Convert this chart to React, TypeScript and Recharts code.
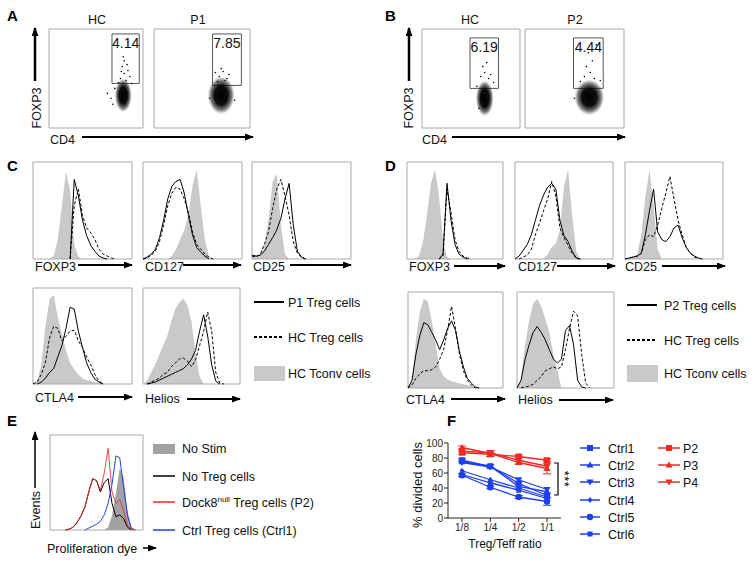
import { Area, ComposedChart, ErrorBar, Line, LineChart, ReferenceArea, Scatter, ScatterChart, XAxis, YAxis } from "recharts"

const FONT = "'Liberation Sans', Arial, Helvetica, sans-serif"
const BLUE = "#1f40e6"
const RED = "#ec2b23"
const TCONV_GRAY = "#c9c9c9"
const NOSTIM_GRAY = "#a2a2a2"
const FRAME = "#a9a9a9"
const TICK = "#555"

// ---------- A / B : FOXP3 vs CD4 dot plots (0-100 display units) ----------
const aHcCluster = [{ x: 79, y: 33, sx: 9, sy: 17 }]
const aHcTail = [
  { x: 76, y: 50 }, { x: 80, y: 55 }, { x: 82, y: 48 }, { x: 78, y: 62 }, { x: 84, y: 58 }, { x: 74, y: 46 },
  { x: 80, y: 68 }, { x: 86, y: 52 }, { x: 77, y: 57 }, { x: 83, y: 64 }, { x: 70, y: 40 }, { x: 88, y: 45 },
  { x: 66, y: 30 }, { x: 62, y: 35 }, { x: 68, y: 24 }, { x: 79, y: 72 },
]
const aHcGate = { x1: 67, x2: 96, y1: 45, y2: 95 }

const aP1Cluster = [{ x: 70, y: 33, sx: 14, sy: 19 }]
const aP1Tail = [
  { x: 68, y: 52 }, { x: 72, y: 57 }, { x: 76, y: 50 }, { x: 70, y: 60 }, { x: 74, y: 48 },
  { x: 66, y: 47 }, { x: 78, y: 54 }, { x: 58, y: 30 }, { x: 84, y: 28 }, { x: 64, y: 56 },
]
const aP1Gate = { x1: 61, x2: 91, y1: 43, y2: 95 }

const bHcCluster = [{ x: 64, y: 30, sx: 9, sy: 18 }]
const bHcTail = [
  { x: 60, y: 52 }, { x: 64, y: 56 }, { x: 68, y: 50 }, { x: 62, y: 62 }, { x: 66, y: 66 },
  { x: 70, y: 54 }, { x: 56, y: 42 }, { x: 73, y: 46 }, { x: 58, y: 20 },
]
const bHcGate = { x1: 49, x2: 78, y1: 40, y2: 91 }

const bP2Cluster = [{ x: 65, y: 31, sx: 15, sy: 18 }]
const bP2Tail = [
  { x: 60, y: 52 }, { x: 66, y: 56 }, { x: 70, y: 50 }, { x: 62, y: 62 }, { x: 68, y: 68 },
  { x: 56, y: 47 }, { x: 76, y: 48 }, { x: 64, y: 76 }, { x: 72, y: 84 }, { x: 50, y: 30 },
]
const bP2Gate = { x1: 49, x2: 79, y1: 40, y2: 91 }

const flowXTicks = [5, 9, 13, 17, 21, 24, 27, 33, 40, 52, 64, 72, 78, 83, 87, 91, 95]
const flowYTicks = [23, 41, 67, 90]

// ---------- C / D : histograms, 25 channels, % of max ----------
const cFoxp3Tconv = [0, 0, 0, 0, 0, 3, 20, 55, 90, 70, 15, 2, 0, 0, 0, 0, 0, 0, 0, 0, 0, 0, 0, 0, 0]
const cFoxp3Treg = [0, 0, 0, 0, 0, 0, 0, 0, 0, 0, 82, 65, 40, 24, 14, 8, 3, 1, 0, 0, 0, 0, 0, 0, 0]
const cFoxp3Hc = [0, 0, 0, 0, 0, 0, 0, 0, 0, 0, 55, 72, 45, 32, 27, 20, 10, 5, 3, 1, 0, 0, 0, 0, 0]

const cCd127Tconv = [0, 0, 0, 0, 0, 0, 0, 3, 10, 20, 30, 45, 75, 92, 55, 20, 2, 0, 0, 0, 0, 0, 0, 0, 0]
const cCd127Treg = [0, 2, 5, 10, 22, 40, 62, 75, 80, 82, 68, 45, 25, 12, 7, 3, 0, 0, 0, 0, 0, 0, 0, 0, 0]
const cCd127Hc = [0, 1, 4, 8, 18, 35, 55, 68, 74, 72, 62, 48, 28, 15, 10, 5, 2, 0, 0, 0, 0, 0, 0, 0, 0]

const cCd25Tconv = [2, 3, 5, 15, 40, 80, 88, 35, 5, 0, 0, 0, 0, 0, 0, 0, 0, 0, 0, 0, 0, 0, 0, 0, 0]
const cCd25Treg = [4, 3, 4, 8, 15, 22, 30, 42, 62, 78, 35, 8, 2, 0, 0, 0, 0, 0, 0, 0, 0, 0, 0, 0, 0]
const cCd25Hc = [3, 2, 5, 15, 28, 52, 72, 82, 65, 45, 18, 6, 2, 0, 0, 0, 0, 0, 0, 0, 0, 0, 0, 0, 0]

const cCtla4Tconv = [0, 3, 20, 60, 88, 93, 70, 52, 35, 22, 15, 10, 6, 4, 3, 2, 1, 0, 0, 0, 0, 0, 0, 0, 0]
const cCtla4Treg = [0, 0, 2, 6, 12, 16, 28, 40, 58, 80, 78, 55, 38, 22, 12, 5, 2, 0, 0, 0, 0, 0, 0, 0, 0]
const cCtla4Hc = [0, 2, 10, 22, 48, 60, 58, 45, 50, 55, 56, 45, 38, 28, 20, 10, 3, 0, 0, 0, 0, 0, 0, 0, 0]

const cHeliosTconv = [0, 3, 12, 20, 30, 40, 50, 65, 78, 85, 89, 82, 65, 32, 8, 0, 0, 0, 0, 0, 0, 0, 0, 0, 0]
const cHeliosTreg = [0, 0, 1, 2, 4, 6, 8, 10, 12, 14, 16, 20, 26, 35, 55, 72, 50, 20, 3, 0, 0, 0, 0, 0, 0]
const cHeliosHc = [0, 0, 2, 4, 6, 10, 12, 18, 22, 26, 27, 24, 18, 25, 40, 55, 75, 55, 12, 1, 0, 0, 0, 0, 0]

const dFoxp3Tconv = [0, 0, 0, 3, 18, 45, 78, 92, 65, 20, 2, 0, 0, 0, 0, 0, 0, 0, 0, 0, 0, 0, 0, 0, 0]
const dFoxp3Treg = [0, 0, 0, 0, 0, 0, 0, 0, 0, 5, 78, 40, 15, 5, 2, 0, 0, 0, 0, 0, 0, 0, 0, 0, 0]
const dFoxp3Hc = [0, 0, 0, 0, 0, 0, 0, 0, 0, 3, 72, 48, 20, 8, 3, 1, 0, 0, 0, 0, 0, 0, 0, 0, 0]

const dCd127Tconv = [0, 0, 0, 0, 0, 0, 0, 0, 5, 12, 16, 30, 75, 92, 45, 8, 0, 0, 0, 0, 0, 0, 0, 0, 0]
const dCd127Treg = [0, 3, 9, 15, 25, 40, 55, 66, 74, 78, 72, 40, 24, 18, 8, 1, 0, 0, 0, 0, 0, 0, 0, 0, 0]
const dCd127Hc = [0, 0, 2, 4, 10, 25, 37, 50, 62, 80, 65, 32, 22, 14, 6, 1, 0, 0, 0, 0, 0, 0, 0, 0, 0]

const dCd25Tconv = [0, 0, 2, 5, 25, 65, 92, 55, 10, 0, 0, 0, 0, 0, 0, 0, 0, 0, 0, 0, 0, 0, 0, 0, 0]
const dCd25Treg = [0, 1, 2, 3, 6, 25, 50, 72, 28, 20, 18, 23, 32, 35, 22, 12, 6, 3, 1, 0, 0, 0, 0, 0, 0]
const dCd25Hc = [0, 1, 2, 3, 6, 20, 25, 23, 35, 52, 68, 85, 62, 40, 25, 12, 6, 2, 0, 0, 0, 0, 0, 0, 0]

const dCtla4Tconv = [0, 8, 50, 80, 93, 90, 70, 45, 20, 12, 9, 7, 6, 5, 4, 3, 2, 1, 0, 0, 0, 0, 0, 0, 0]
const dCtla4Treg = [0, 8, 35, 55, 68, 66, 58, 50, 40, 50, 62, 70, 60, 38, 22, 10, 5, 1, 0, 0, 0, 0, 0, 0, 0]
const dCtla4Hc = [0, 3, 10, 15, 18, 18, 19, 22, 30, 40, 60, 85, 62, 35, 18, 8, 3, 0, 0, 0, 0, 0, 0, 0, 0]

const dHeliosTconv = [0, 10, 45, 70, 88, 93, 85, 72, 58, 35, 18, 0, 0, 0, 0, 0, 0, 0, 0, 0, 0, 0, 0, 0, 0]
const dHeliosTreg = [0, 8, 30, 45, 58, 64, 58, 50, 40, 30, 26, 30, 60, 65, 45, 8, 1, 0, 0, 0, 0, 0, 0, 0, 0]
const dHeliosHc = [0, 0, 1, 2, 4, 8, 12, 18, 20, 22, 20, 22, 40, 62, 80, 75, 35, 5, 0, 0, 0, 0, 0, 0, 0]

const histXTicks = [1.2, 2.4, 3.6, 5.4, 5.7, 6, 7.8, 10.2, 13, 15.5, 17, 18.7, 20.4, 21.8, 23]
const histYTicks = [20, 40, 60, 80, 100]

// ---------- E : proliferation dye ----------
const eNoStim = [0, 0, 0, 0, 0, 0, 0, 0, 0, 0, 0, 0, 0, 0, 0, 3, 15, 38, 65, 55, 20, 3, 0, 0, 0]
const eNoTreg = [0, 0, 0, 0, 0, 1, 3, 8, 15, 24, 40, 54, 52, 40, 50, 54, 28, 14, 16, 12, 3, 0, 0, 0, 0]
const eDock8 = [0, 0, 0, 0, 0, 1, 3, 8, 15, 24, 40, 54, 52, 42, 60, 86, 40, 28, 32, 20, 5, 1, 0, 0, 0]
const eCtrl = [0, 0, 0, 0, 0, 0, 0, 0, 0, 0, 2, 4, 6, 9, 16, 28, 48, 78, 76, 45, 15, 2, 0, 0, 0]
const eXTicks = [0, 7.2, 14.7, 18.1, 21.4]
const eYTicks = [23, 42, 61, 81, 100]

// ---------- F : % divided cells ----------
const ratios = ["1/8", "1/4", "1/2", "1/1"]
const ctrl1 = [77, 69, 46, 30]
const ctrl2 = [75, 69, 42, 35]
const ctrl3 = [74, 68, 51, 38]
const ctrl4 = [63, 51, 40, 28]
const ctrl5 = [57, 41, 28, 22]
const ctrl6 = [58, 47, 37, 26]
const p2 = [87, 85, 82, 77]
const p3 = [94, 86, 74, 66]
const p4 = [89, 87, 77, 69]
const ctrl1Err = [2, 2, 2, 3]
const ctrl5Err = [2, 2, 2, 5]
const p2Err = [2, 3, 2, 2]
const p3Err = [2, 4, 2, 7]
const pctTicks = [0, 20, 40, 60, 80, 100]

const fSeries = [
  { name: "Ctrl1", values: ctrl1, err: ctrl1Err, color: BLUE, shape: "square" },
  { name: "Ctrl2", values: ctrl2, color: BLUE, shape: "up" },
  { name: "Ctrl3", values: ctrl3, color: BLUE, shape: "down" },
  { name: "Ctrl4", values: ctrl4, color: BLUE, shape: "diamond" },
  { name: "Ctrl5", values: ctrl5, err: ctrl5Err, color: BLUE, shape: "circle" },
  { name: "Ctrl6", values: ctrl6, color: BLUE, shape: "small" },
  { name: "P2", values: p2, err: p2Err, color: RED, shape: "square" },
  { name: "P3", values: p3, err: p3Err, color: RED, shape: "up" },
  { name: "P4", values: p4, color: RED, shape: "down" },
]

const fRows = ratios.map((ratio, i) => {
  const row: Record<string, string | number> = { ratio }
  fSeries.forEach((s) => {
    row[s.name] = s.values[i]
    if (s.err) row[s.name + "_err"] = s.err[i]
  })
  return row
})

// zero runs away from a curve become gaps, so lines don't trace the frame
const trim = (a: number[]) =>
  a.map((v, i) => (v === 0 && (a[i - 1] ?? 0) === 0 && (a[i + 1] ?? 0) === 0 ? null : v))

type Box = { x: number; y: number; w: number; h: number }

function Mark({ shape, cx, cy, color }: { shape: string; cx: number; cy: number; color: string }) {
  switch (shape) {
    case "square":
      return <rect x={cx - 3} y={cy - 3} width={6} height={6} fill={color} />
    case "up":
      return <path d={`M${cx},${cy - 3.6} L${cx + 3.6},${cy + 2.6} L${cx - 3.6},${cy + 2.6} Z`} fill={color} />
    case "down":
      return <path d={`M${cx},${cy + 3.6} L${cx + 3.6},${cy - 2.6} L${cx - 3.6},${cy - 2.6} Z`} fill={color} />
    case "diamond":
      return <path d={`M${cx},${cy - 3} L${cx + 2.4},${cy} L${cx},${cy + 3} L${cx - 2.4},${cy} Z`} fill={color} />
    case "circle":
      return <circle cx={cx} cy={cy} r={3.2} fill={color} />
    default:
      return <rect x={cx - 2.5} y={cy - 2.5} width={5} height={5} fill={color} />
  }
}

function DotPlot({ box, cluster, tail, gate, label, id }: any) {
  const kx = box.w / 100
  const ky = box.h / 100
  const blob = (p: any) => (
    <ellipse cx={p.cx} cy={p.cy} rx={p.payload.sx * kx} ry={p.payload.sy * ky} fill={`url(#${id})`} />
  )
  const speck = (p: any) => <circle cx={p.cx} cy={p.cy} r={0.8} fill="#000" />
  return (
    <div style={{ position: "absolute", left: box.x - 6, top: box.y - 2 }}>
      <ScatterChart width={box.w + 8} height={box.h + 8} margin={{ top: 2, right: 2, bottom: 2, left: 2 }}>
        <defs>
          <radialGradient id={id}>
            <stop offset="0%" stopColor="#000" stopOpacity={1} />
            <stop offset="50%" stopColor="#000" stopOpacity={0.95} />
            <stop offset="78%" stopColor="#111" stopOpacity={0.55} />
            <stop offset="100%" stopColor="#444" stopOpacity={0} />
          </radialGradient>
        </defs>
        <XAxis type="number" dataKey="x" domain={[0, 100]} ticks={flowXTicks} tick={false} tickSize={3} height={4} axisLine={false} tickLine={{ stroke: TICK }} />
        <YAxis type="number" dataKey="y" domain={[0, 100]} ticks={flowYTicks} tick={false} tickSize={3} width={4} axisLine={false} tickLine={{ stroke: TICK }} />
        <ReferenceArea x1={0} x2={100} y1={0} y2={100} fill="#fff" fillOpacity={0} stroke={FRAME} />
        <Scatter data={tail} shape={speck} isAnimationActive={false} />
        <Scatter data={cluster} shape={blob} isAnimationActive={false} />
        <ReferenceArea
          x1={gate.x1}
          x2={gate.x2}
          y1={gate.y1}
          y2={gate.y2}
          fill="#fff"
          fillOpacity={0}
          stroke="#555"
          label={{ value: label, position: "insideTop", offset: 4, fontSize: 14, fill: "#111", fontFamily: FONT }}
        />
      </ScatterChart>
    </div>
  )
}

function Hist({ box, tconv, treg, hc }: { box: Box; tconv: number[]; treg: number[]; hc: number[] }) {
  const tr = trim(treg)
  const hh = trim(hc)
  const rows = tconv.map((v, i) => ({ i, tconv: v, treg: tr[i], hc: hh[i] }))
  return (
    <div style={{ position: "absolute", left: box.x - 6, top: box.y - 2 }}>
      <ComposedChart width={box.w + 8} height={box.h + 8} data={rows} margin={{ top: 2, right: 2, bottom: 2, left: 2 }}>
        <XAxis type="number" dataKey="i" domain={[0, 24]} ticks={histXTicks} tick={false} tickSize={3} height={4} axisLine={false} tickLine={{ stroke: TICK }} />
        <YAxis type="number" domain={[0, 100]} ticks={histYTicks} tick={false} tickSize={3} width={4} axisLine={false} tickLine={{ stroke: TICK }} />
        <Area dataKey="tconv" type="linear" fill={TCONV_GRAY} fillOpacity={1} stroke="none" isAnimationActive={false} />
        <Line dataKey="hc" type="linear" stroke="#000" strokeWidth={1} strokeDasharray="3 2" dot={false} isAnimationActive={false} />
        <Line dataKey="treg" type="linear" stroke="#000" strokeWidth={1} dot={false} isAnimationActive={false} />
        <ReferenceArea x1={0} x2={24} y1={0} y2={100} fill="#fff" fillOpacity={0} stroke={FRAME} />
      </ComposedChart>
    </div>
  )
}

function ProlifHist() {
  const box = { x: 50, y: 435, w: 93, h: 95 }
  const nt = trim(eNoTreg)
  const dk = trim(eDock8)
  const ct = trim(eCtrl)
  const rows = eNoStim.map((v, i) => ({ i, noStim: v, noTreg: nt[i], dock8: dk[i], ctrl: ct[i] }))
  return (
    <div style={{ position: "absolute", left: box.x - 6, top: box.y - 2 }}>
      <ComposedChart width={box.w + 8} height={box.h + 8} data={rows} margin={{ top: 2, right: 2, bottom: 2, left: 2 }}>
        <XAxis type="number" dataKey="i" domain={[0, 24]} ticks={eXTicks} tick={false} tickSize={3} height={4} axisLine={false} tickLine={{ stroke: TICK }} />
        <YAxis type="number" domain={[0, 100]} ticks={eYTicks} tick={false} tickSize={3} width={4} axisLine={false} tickLine={{ stroke: TICK }} />
        <Area dataKey="noStim" type="linear" fill={NOSTIM_GRAY} fillOpacity={1} stroke="none" isAnimationActive={false} />
        <Line dataKey="noTreg" type="linear" stroke="#000" strokeWidth={1} dot={false} isAnimationActive={false} />
        <Line dataKey="ctrl" type="linear" stroke={BLUE} strokeWidth={1} dot={false} isAnimationActive={false} />
        <Line dataKey="dock8" type="linear" stroke={RED} strokeWidth={1} strokeOpacity={0.85} dot={false} isAnimationActive={false} />
        <ReferenceArea x1={0} x2={24} y1={0} y2={100} fill="#fff" fillOpacity={0} stroke={FRAME} />
      </ComposedChart>
    </div>
  )
}

function DividedChart() {
  const axisTick = { fontSize: 10, fill: "#222", fontFamily: FONT }
  return (
    <div style={{ position: "absolute", left: 405, top: 435 }}>
      <LineChart width={158} height={103} data={fRows} margin={{ top: 8, right: 2, bottom: 0, left: 0 }}>
        <XAxis dataKey="ratio" padding={{ left: 14, right: 14 }} height={20} tickSize={4} interval={0} tick={axisTick} tickLine={{ stroke: "#222" }} axisLine={{ stroke: "#222" }} />
        <YAxis domain={[0, 100]} ticks={pctTicks} interval={0} width={43} tickSize={4} tickMargin={1} tick={axisTick} tickLine={{ stroke: "#222" }} axisLine={{ stroke: "#222" }} />
        {fSeries.map((s) => (
          <Line
            key={s.name}
            dataKey={s.name}
            type="linear"
            stroke={s.color}
            strokeWidth={1.3}
            isAnimationActive={false}
            dot={(p: any) => <Mark key={p.index} shape={s.shape} cx={p.cx} cy={p.cy} color={s.color} />}
          >
            {s.err && <ErrorBar dataKey={s.name + "_err"} width={4} stroke={s.color} strokeWidth={1} direction="y" />}
          </Line>
        ))}
      </LineChart>
    </div>
  )
}

function Arrow({ x1, y1, x2, y2, w = 2 }: { x1: number; y1: number; x2: number; y2: number; w?: number }) {
  return <line x1={x1} y1={y1} x2={x2} y2={y2} stroke="#000" strokeWidth={w} markerEnd="url(#ah)" />
}

function Annotations() {
  const t = { fontSize: 12.5, fill: "#111" }
  const letter = { fontSize: 15, fontWeight: 700, fill: "#000" }
  const ctrlRows = [448, 465, 482, 500, 517, 534]
  return (
    <svg width={754} height={563} style={{ position: "absolute", left: 0, top: 0, pointerEvents: "none" }} fontFamily={FONT}>
      <defs>
        <marker id="ah" markerWidth={9} markerHeight={7} refX={8} refY={3.5} orient="auto" markerUnits="userSpaceOnUse">
          <path d="M0,0 L9,3.5 L0,7 Z" fill="#000" />
        </marker>
      </defs>

      <text x={7} y={21} {...letter}>A</text>
      <text x={385} y={21} {...letter}>B</text>
      <text x={7} y={171} {...letter}>C</text>
      <text x={385} y={171} {...letter}>D</text>
      <text x={7} y={426} {...letter}>E</text>
      <text x={447} y={426} {...letter}>F</text>

      {/* A / B titles and axes */}
      <text x={97} y={24} textAnchor="middle" {...t}>HC</text>
      <text x={198} y={24} textAnchor="middle" {...t}>P1</text>
      <text x={470} y={24} textAnchor="middle" {...t}>HC</text>
      <text x={575} y={24} textAnchor="middle" {...t}>P2</text>
      <Arrow x1={35} y1={81} x2={35} y2={28} w={2.5} />
      <text x={40.5} y={108} textAnchor="middle" transform="rotate(-90 40.5 108)" {...t}>FOXP3</text>
      <text x={50} y={143.5} {...t}>CD4</text>
      <Arrow x1={82} y1={137} x2={253} y2={137} />
      <Arrow x1={409} y1={81} x2={409} y2={28} w={2.5} />
      <text x={413} y={108} textAnchor="middle" transform="rotate(-90 413 108)" {...t}>FOXP3</text>
      <text x={422} y={143.5} {...t}>CD4</text>
      <Arrow x1={452} y1={137} x2={625} y2={137} />

      {/* C axis labels */}
      <text x={35} y={270.5} {...t}>FOXP3</text>
      <Arrow x1={78} y1={265} x2={132} y2={265} />
      <text x={145} y={270.5} {...t}>CD127</text>
      <Arrow x1={183} y1={265} x2={241} y2={265} />
      <text x={253} y={270.5} {...t}>CD25</text>
      <Arrow x1={290} y1={265} x2={351} y2={265} />
      <text x={35} y={401.5} {...t}>CTLA4</text>
      <Arrow x1={78} y1={397} x2={132} y2={397} />
      <text x={145} y={402.5} {...t}>Helios</text>
      <Arrow x1={187} y1={399} x2={240} y2={399} />

      {/* C legend */}
      <line x1={254} y1={302} x2={284} y2={302} stroke="#000" strokeWidth={2} />
      <text x={288} y={306.5} {...t}>P1 Treg cells</text>
      <line x1={254} y1={337} x2={284} y2={337} stroke="#000" strokeWidth={2} strokeDasharray="3 2" />
      <text x={288} y={341.5} {...t}>HC Treg cells</text>
      <rect x={254} y={366} width={31} height={15} fill={TCONV_GRAY} />
      <text x={288} y={378} {...t}>HC Tconv cells</text>

      {/* D axis labels */}
      <text x={409} y={270.5} {...t}>FOXP3</text>
      <Arrow x1={454} y1={266} x2={505} y2={266} />
      <text x={518} y={270.5} {...t}>CD127</text>
      <Arrow x1={557} y1={266} x2={615} y2={266} />
      <text x={625} y={270.5} {...t}>CD25</text>
      <Arrow x1={662} y1={266} x2={725} y2={266} />
      <text x={406} y={403.5} {...t}>CTLA4</text>
      <Arrow x1={451} y1={399} x2={505} y2={399} />
      <text x={518} y={404} {...t}>Helios</text>
      <Arrow x1={559} y1={400} x2={613} y2={400} />

      {/* D legend */}
      <line x1={627} y1={305} x2={657} y2={305} stroke="#000" strokeWidth={2} />
      <text x={664} y={309.5} {...t}>P2 Treg cells</text>
      <line x1={627} y1={340} x2={657} y2={340} stroke="#000" strokeWidth={2} strokeDasharray="3 2" />
      <text x={664} y={344.5} {...t}>HC Treg cells</text>
      <rect x={627} y={365} width={31} height={17} fill={TCONV_GRAY} />
      <text x={664} y={378} {...t}>HC Tconv cells</text>

      {/* E */}
      <Arrow x1={35} y1={488} x2={35} y2={432} w={1.5} />
      <text x={39.5} y={510} textAnchor="middle" transform="rotate(-90 39.5 510)" {...t}>Events</text>
      <text x={47} y={552.5} {...t}>Proliferation dye</text>
      <Arrow x1={143} y1={548} x2={156} y2={548} w={1.5} />
      <rect x={153} y={444} width={22} height={10} fill={NOSTIM_GRAY} />
      <text x={182} y={453} {...t}>No Stim</text>
      <line x1={153} y1={476} x2={175} y2={476} stroke="#000" strokeWidth={1.5} />
      <text x={182} y={481} {...t}>No Treg cells</text>
      <line x1={153} y1={502} x2={175} y2={502} stroke={RED} strokeWidth={1.5} />
      <text x={182} y={507} {...t}>
        Dock8<tspan fontSize={8} dy={-5}>null</tspan>
        <tspan dy={5}> Treg cells (P2)</tspan>
      </text>
      <line x1={153} y1={530} x2={175} y2={530} stroke={BLUE} strokeWidth={1.5} />
      <text x={182} y={535} {...t}>Ctrl Treg cells (Ctrl1)</text>

      {/* F labels, bracket, legend */}
      <text x={422} y={485} textAnchor="middle" transform="rotate(-90 422 485)" fontSize={13} fill="#111">% divided cells</text>
      <text x={505} y={547.5} textAnchor="middle" fontSize={12} fill="#111">Treg/Teff ratio</text>
      <path d="M554,463 H558 V495 H554" fill="none" stroke="#000" strokeWidth={1.2} />
      <text x={560} y={479} textAnchor="middle" transform="rotate(90 560 479)" fontSize={13} letterSpacing={0.5} fill="#000">***</text>
      {fSeries.map((s, i) => {
        const isCtrl = i < 6
        const y = isCtrl ? ctrlRows[i] : ctrlRows[i - 6]
        const x0 = isCtrl ? 580 : 658
        const x1 = isCtrl ? 600 : 680
        const tx = isCtrl ? 608 : 683
        return (
          <g key={s.name}>
            <line x1={x0} y1={y} x2={x1} y2={y} stroke={s.color} strokeWidth={1.5} />
            <Mark shape={s.shape} cx={(x0 + x1) / 2} cy={y} color={s.color} />
            <text x={tx} y={y + 4.5} {...t}>{s.name}</text>
          </g>
        )
      })}
    </svg>
  )
}

export default function App() {
  return (
    <div style={{ position: "absolute", left: 0, top: 0, width: 754, height: 563, background: "#fff", overflow: "hidden", fontFamily: FONT }}>
      <DotPlot id="gA1" box={{ x: 49, y: 29, w: 94, h: 99 }} cluster={aHcCluster} tail={aHcTail} gate={aHcGate} label="4.14" />
      <DotPlot id="gA2" box={{ x: 154, y: 29, w: 96, h: 99 }} cluster={aP1Cluster} tail={aP1Tail} gate={aP1Gate} label="7.85" />
      <DotPlot id="gB1" box={{ x: 422, y: 29, w: 98, h: 99 }} cluster={bHcCluster} tail={bHcTail} gate={bHcGate} label="6.19" />
      <DotPlot id="gB2" box={{ x: 525, y: 29, w: 99, h: 99 }} cluster={bP2Cluster} tail={bP2Tail} gate={bP2Gate} label="4.44" />

      <Hist box={{ x: 33, y: 162, w: 99, h: 97 }} tconv={cFoxp3Tconv} treg={cFoxp3Treg} hc={cFoxp3Hc} />
      <Hist box={{ x: 143, y: 162, w: 99, h: 97 }} tconv={cCd127Tconv} treg={cCd127Treg} hc={cCd127Hc} />
      <Hist box={{ x: 252, y: 162, w: 99, h: 97 }} tconv={cCd25Tconv} treg={cCd25Treg} hc={cCd25Hc} />
      <Hist box={{ x: 33, y: 288, w: 99, h: 96 }} tconv={cCtla4Tconv} treg={cCtla4Treg} hc={cCtla4Hc} />
      <Hist box={{ x: 143, y: 288, w: 97, h: 96 }} tconv={cHeliosTconv} treg={cHeliosTreg} hc={cHeliosHc} />

      <Hist box={{ x: 407, y: 162, w: 96, h: 97 }} tconv={dFoxp3Tconv} treg={dFoxp3Treg} hc={dFoxp3Hc} />
      <Hist box={{ x: 515, y: 162, w: 98, h: 97 }} tconv={dCd127Tconv} treg={dCd127Treg} hc={dCd127Hc} />
      <Hist box={{ x: 625, y: 162, w: 98, h: 97 }} tconv={dCd25Tconv} treg={dCd25Treg} hc={dCd25Hc} />
      <Hist box={{ x: 408, y: 292, w: 95, h: 96 }} tconv={dCtla4Tconv} treg={dCtla4Treg} hc={dCtla4Hc} />
      <Hist box={{ x: 517, y: 292, w: 97, h: 96 }} tconv={dHeliosTconv} treg={dHeliosTreg} hc={dHeliosHc} />

      <ProlifHist />
      <DividedChart />
      <Annotations />
    </div>
  )
}
